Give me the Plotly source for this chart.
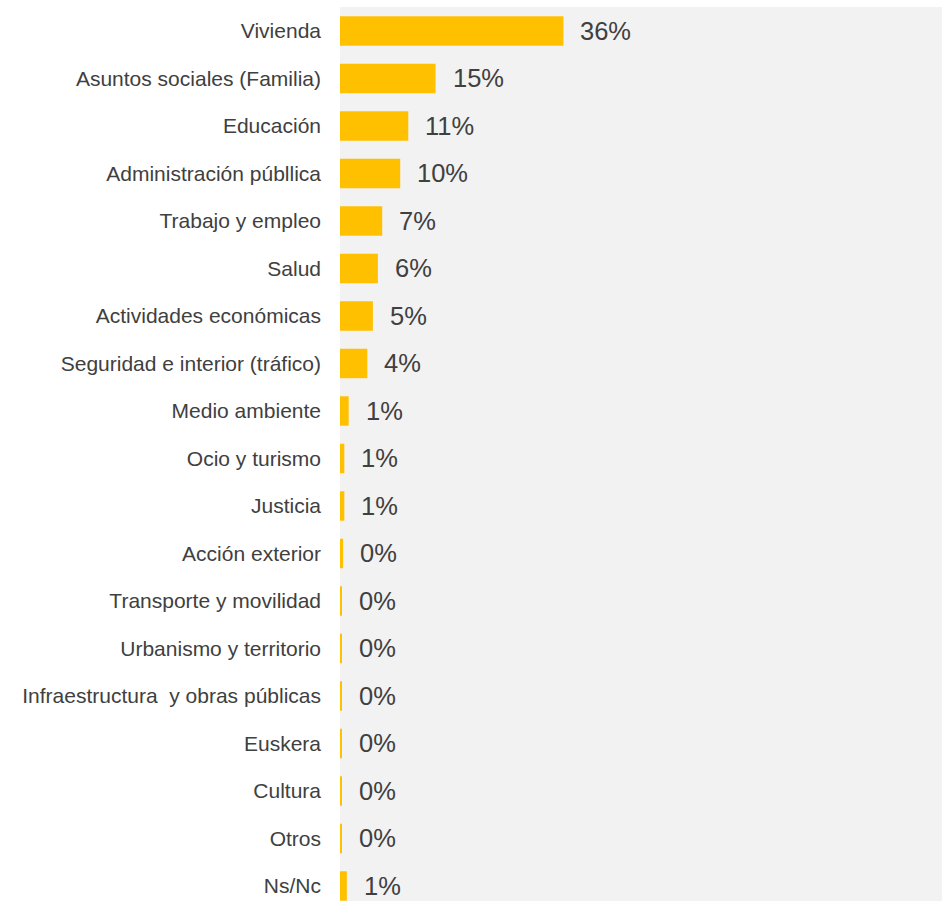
import plotly.graph_objects as go

# Share of queries by subject area (%)
categories = [
    "Vivienda",
    "Asuntos sociales (Familia)",
    "Educación",
    "Administración públlica",
    "Trabajo y empleo",
    "Salud",
    "Actividades económicas",
    "Seguridad e interior (tráfico)",
    "Medio ambiente",
    "Ocio y turismo",
    "Justicia",
    "Acción exterior",
    "Transporte y movilidad",
    "Urbanismo y territorio",
    "Infraestructura \u00a0y obras públicas",
    "Euskera",
    "Cultura",
    "Otros",
    "Ns/Nc",
]
values = [36.0, 15.4, 11.0, 9.7, 6.8, 6.1, 5.3, 4.4, 1.4, 0.7, 0.7,
          0.5, 0.3, 0.25, 0.3, 0.3, 0.25, 0.3, 1.1]

labels = [f"{round(v):.0f}%" for v in values]

BAR = "#FFC000"
TEXT = "#404040"
FONT = "Liberation Sans, Arial, sans-serif"

fig = go.Figure(
    go.Bar(
        x=values,
        y=categories,
        orientation="h",
        marker=dict(color=BAR, line=dict(width=0)),
        width=0.62,
        hoverinfo="skip",
    )
)

for c, v, t in zip(categories, values, labels):
    fig.add_annotation(
        x=v, y=c, text=t, showarrow=False,
        xanchor="left", yanchor="middle", xshift=15,
        font=dict(family=FONT, size=25.5, color=TEXT),
    )

n = len(categories)
fig.update_layout(
    width=942,
    height=901,
    margin=dict(l=340, r=0, t=7, b=0),
    paper_bgcolor="white",
    plot_bgcolor="#F2F2F2",
    showlegend=False,
    font=dict(family=FONT, color=TEXT),
    xaxis=dict(range=[0, 97], visible=False, fixedrange=True),
    yaxis=dict(
        type="category",
        categoryorder="array",
        categoryarray=categories,
        range=[n - 1 + 0.316, -0.505],
        showgrid=False,
        zeroline=False,
        showline=False,
        ticks="",
        ticklabelstandoff=18,
        tickfont=dict(family=FONT, size=21, color=TEXT),
    ),
)

fig.write_html("out.html")
